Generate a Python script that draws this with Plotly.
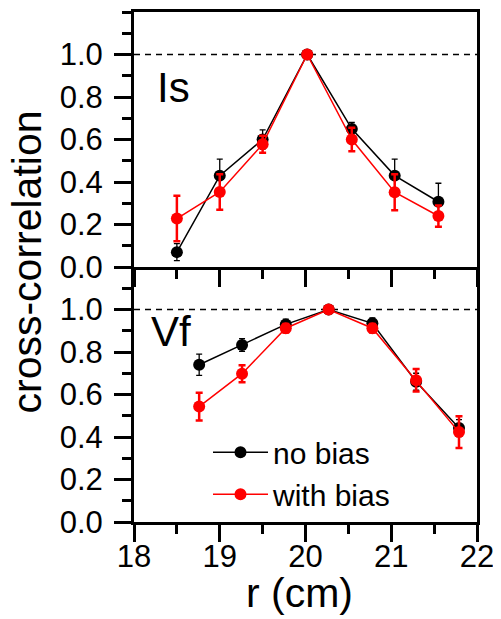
import plotly.graph_objects as go
from plotly.subplots import make_subplots

# ---- data ----
r_is = [18.5, 19.0, 19.5, 20.02, 20.54, 21.04, 21.55]
is_nobias = [0.07, 0.43, 0.60, 1.00, 0.65, 0.43, 0.307]
is_nobias_err = [0.04, 0.078, 0.045, 0.01, 0.03, 0.078, 0.087]
is_bias = [0.228, 0.353, 0.578, 1.00, 0.60, 0.352, 0.24]
is_bias_err = [0.107, 0.083, 0.04, 0.01, 0.055, 0.085, 0.05]

r_vf = [18.76, 19.26, 19.77, 20.27, 20.78, 21.29, 21.79]
vf_nobias = [0.74, 0.833, 0.93, 1.00, 0.935, 0.66, 0.442]
vf_nobias_err = [0.05, 0.03, 0.025, 0.01, 0.025, 0.04, 0.04]
vf_bias = [0.543, 0.698, 0.912, 1.00, 0.912, 0.667, 0.423]
vf_bias_err = [0.065, 0.04, 0.02, 0.01, 0.02, 0.053, 0.075]

y_ticks = [0.0, 0.2, 0.4, 0.6, 0.8, 1.0]
y_ticktext = ["0.0", "0.2", "0.4", "0.6", "0.8", "1.0"]
x_ticks = [18, 19, 20, 21, 22]

FONT = "Liberation Sans, Arial, sans-serif"

# page body has an 8px margin; plot area target (page px): x 134..477, y 9..522
OFF = 8
PL, PR, PT, PB = 134, 477, 9, 522
W, H = 501 - OFF, 619 - OFF

def px_x(x):
    return (x - PL) / (PR - PL)

def px_y(y):
    return (PB - y) / (PB - PT)

fig = make_subplots(rows=2, cols=1, vertical_spacing=0)

def add_pair(r, nb, nbe, b, be, row, legend):
    fig.add_trace(go.Scatter(
        x=r, y=nb, mode="lines+markers", name="no bias", showlegend=legend,
        line=dict(color="black", width=1.5),
        marker=dict(color="black", size=12),
        error_y=dict(type="data", array=nbe, color="black", thickness=1.3, width=3),
    ), row=row, col=1)
    fig.add_trace(go.Scatter(
        x=r, y=b, mode="lines+markers", name="with bias", showlegend=legend,
        line=dict(color="red", width=1.5),
        marker=dict(color="red", size=12),
        error_y=dict(type="data", array=be, color="red", thickness=2.5, width=3.5),
    ), row=row, col=1)

add_pair(r_is, is_nobias, is_nobias_err, is_bias, is_bias_err, 1, False)
add_pair(r_vf, vf_nobias, vf_nobias_err, vf_bias, vf_bias_err, 2, True)

axis_common = dict(
    showline=True, linecolor="black", linewidth=3,
    ticks="outside", tickwidth=3, tickcolor="black", ticklen=17,
    showgrid=False, zeroline=False,
    tickfont=dict(family=FONT, size=31, color="black"),
)

for row in (1, 2):
    fig.update_yaxes(range=[0, 1.2], tickvals=y_ticks, ticktext=y_ticktext,
                     mirror=True, ticklabelstandoff=5,
                     minor=dict(dtick=0.1, tick0=0, ticks="outside", ticklen=9,
                                tickwidth=3, tickcolor="black", showgrid=False),
                     **axis_common, row=row, col=1)
    fig.update_xaxes(range=[18, 22], tickvals=x_ticks,
                     mirror=(row == 1), ticklabelstandoff=-12,
                     minor=dict(dtick=0.5, tick0=18, ticks="outside", ticklen=9,
                                tickwidth=3, tickcolor="black", showgrid=False),
                     showticklabels=(row == 2),
                     **axis_common, row=row, col=1)

for yref in ("y", "y2"):
    fig.add_shape(type="line", xref=("x domain" if yref == "y" else "x2 domain"),
                  yref=yref, x0=0, x1=1, y0=1.0, y1=1.0,
                  line=dict(color="black", width=1.3, dash="6px,5px"), layer="below")

fig.add_annotation(text="Is", xref="paper", yref="paper", x=px_x(155), y=px_y(85),
                   xanchor="left", yanchor="middle", showarrow=False,
                   font=dict(family=FONT, size=42, color="black"))
fig.add_annotation(text="Vf", xref="paper", yref="paper", x=px_x(149), y=px_y(330),
                   xanchor="left", yanchor="middle", showarrow=False,
                   font=dict(family=FONT, size=42, color="black"))

fig.add_annotation(text="cross-correlation", xref="paper", yref="paper",
                   x=px_x(27), y=px_y(261), textangle=-90,
                   xanchor="center", yanchor="middle", showarrow=False,
                   font=dict(family=FONT, size=41, color="black"))
fig.add_annotation(text="r (cm)", xref="paper", yref="paper",
                   x=px_x(299), y=px_y(593),
                   xanchor="center", yanchor="middle", showarrow=False,
                   font=dict(family=FONT, size=41, color="black"))

fig.update_layout(
    width=W, height=H,
    margin=dict(l=PL - OFF, r=(W + OFF) - PR, t=PT - OFF, b=(H + OFF) - PB),
    paper_bgcolor="white", plot_bgcolor="rgba(0,0,0,0)",
    font=dict(family=FONT, color="black"),
    legend=dict(x=px_x(208), y=px_y(473), xanchor="left", yanchor="middle",
                font=dict(family=FONT, size=30, color="black"),
                bgcolor="rgba(0,0,0,0)", itemwidth=55, borderwidth=0),
)

fig.write_html("out.html")
